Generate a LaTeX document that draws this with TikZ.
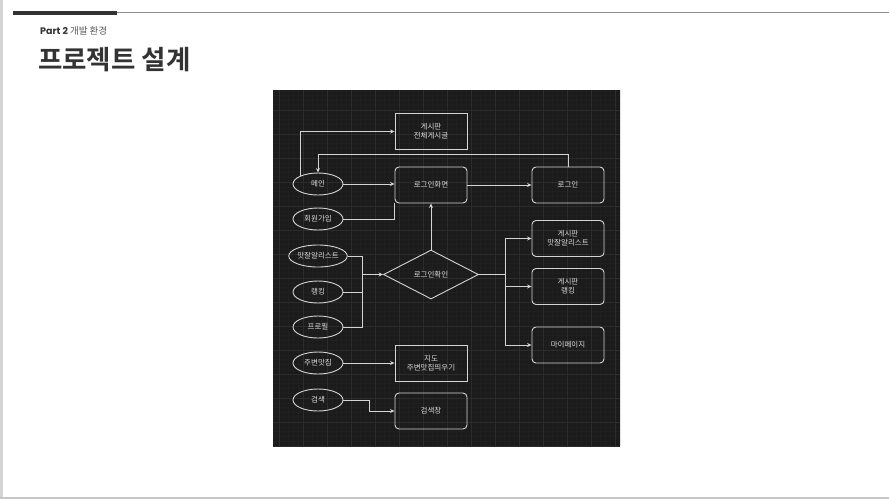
\documentclass[tikz,border=0pt]{standalone}
\usepackage{fontspec}
\setmainfont{Noto Sans CJK KR}[BoldFont={Noto Sans CJK KR Bold}]
\newfontfamily\partfont{Poppins}
\usetikzlibrary{arrows.meta,shapes.geometric}
\definecolor{panel}{HTML}{1B1B1B}
\definecolor{minorgrid}{HTML}{1F1F1F}
\definecolor{majorgrid}{HTML}{2C2C2C}
\definecolor{edge}{HTML}{D4D4D4}
\definecolor{label}{HTML}{DADADA}
\definecolor{ink}{HTML}{333333}
\tikzstyle{box} = [draw=edge, line width=0.9pt, minimum width=72pt, minimum height=36pt, inner sep=0pt, align=center, text=label, font=\fontsize{7.5}{9}\selectfont]
\tikzstyle{rbox} = [box, rounded corners=4pt]
\tikzstyle{oval} = [ellipse, draw=edge, line width=0.9pt, minimum width=50pt, minimum height=22pt, inner sep=0pt, text=label, font=\fontsize{7.5}{9}\selectfont]
\tikzstyle{decision} = [diamond, draw=edge, line width=0.9pt, aspect=2, minimum width=95pt, minimum height=49pt, inner sep=0pt, text=label, font=\fontsize{7.5}{9}\selectfont]
\tikzstyle{wire} = [draw=edge, line width=0.8pt]
\tikzstyle{link} = [wire, -{Stealth[length=4.5pt,width=4pt]}]

\begin{document}
\begin{tikzpicture}[x=1pt,y=-1pt]
	\useasboundingbox (0,0) rectangle (889,499);
	% page frame
	\fill[white] (0,0) rectangle (889,499);
	\fill[black!17] (0,0) rectangle (3,499);
	\fill[black!22] (0,497) rectangle (889,499);
	\draw[black!45, line width=1.4pt] (117,12.5) -- (889,12.5);
	\draw[ink, line width=4pt] (13,13) -- (117,13);
	% heading
	\node[anchor=west, inner sep=0pt, text=ink, font=\fontsize{9.5}{11}\selectfont] (part) at (40,31) {{\partfont\bfseries Part 2}\ \textcolor{black!65}{개발 환경}};
	\node[anchor=west, inner sep=0pt, text=ink, font=\fontsize{26.5}{30}\bfseries] (title) at (38,60) {프로젝트 설계};
	% canvas with grid
	\begin{scope}
		\clip (273,90) rectangle (620,446);
		\fill[panel] (273,90) rectangle (620,446);
		\foreach \g in {0,...,73} {
			\draw[minorgrid, line width=0.3pt] ({274.2+4.8*\g},90) -- ++(0,356);
			\draw[minorgrid, line width=0.3pt] (273,{90.8+4.8*\g}) -- ++(347,0);
		}
		\foreach \g in {0,...,14} {
			\draw[majorgrid, line width=0.5pt] ({279+24*\g},90) -- ++(0,356);
			\draw[majorgrid, line width=0.5pt] (273,{110+24*\g}) -- ++(347,0);
		}
	\end{scope}
	% left column
	\node[oval] (main) at (318,184) {메인};
	\node[oval] (signup) at (318,219) {회원가입};
	\node[oval] (matlist) at (318,256) {맛잘알리스트};
	\node[oval] (rank) at (318,292) {랭킹};
	\node[oval] (profile) at (318,327) {프로필};
	\node[oval] (nearby) at (318,363) {주변맛집};
	\node[oval] (search) at (318,400) {검색};
	% middle column
	\node[box] (allpost) at (431,131.5) {게시판\\전체게시글};
	\node[rbox] (loginscr) at (431,185) {로그인화면};
	\node[decision] (check) at (431,274.5) {로그인확인};
	\node[box] (map) at (431,363.5) {지도\\주변맛집띄우기};
	\node[rbox] (searchbox) at (431,411) {검색창};
	% right column
	\node[rbox] (login) at (568,185) {로그인};
	\node[rbox] (bmatlist) at (568,238.5) {게시판\\맛잘알리스트};
	\node[rbox] (brank) at (568,286.5) {게시판\\랭킹};
	\node[rbox] (mypage) at (568,345) {마이페이지};
	% joins
	\coordinate (join) at (362,274.5);
	\coordinate (split) at (505,274.5);
	% connectors
	\draw[link] (main.north west) |- (allpost.west);
	\draw[link] (login.north) -- ++(0,-12) -| (main.north);
	\draw[link] (main.east) -- (main.east -| loginscr.west);
	\draw[link] (loginscr.east) -- (login.west);
	\draw[wire] (signup.east) -| (loginscr.south west);
	\draw[link] (check.north) -- (loginscr.south);
	\draw[wire] (matlist.east) -| (join);
	\draw[wire] (rank.east) -| (join);
	\draw[wire] (profile.east) -| (join);
	\draw[link] (join) -- (check.west);
	\draw[wire] (check.east) -- (split);
	\draw[link] (split) |- (bmatlist.west);
	\draw[link] (split) |- (brank.west);
	\draw[link] (split) |- (mypage.west);
	\draw[link] (nearby.east) -- (nearby.east -| map.west);
	\draw[link] (search.east) -- ++(26,0) |- (searchbox.west);
\end{tikzpicture}
\end{document}
